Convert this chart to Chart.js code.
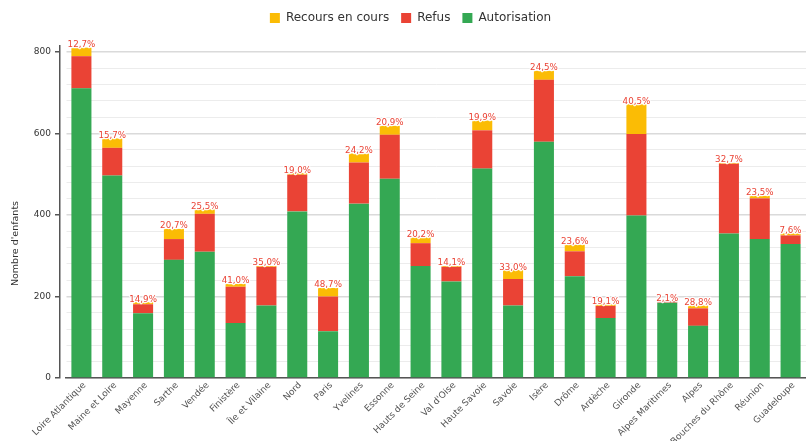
<!DOCTYPE html>
<html>
<head>
<meta charset="utf-8">
<script src="https://cdn.jsdelivr.net/npm/chart.js@4/dist/chart.umd.min.js"></script>
<style>
    body { margin: 0; background: #fff; }
    #wrap { width: 806px; height: 441px; }
</style>
</head>
<body>
<div id="wrap"><canvas id="chart" width="806" height="441"></canvas></div>
<script>
const departements = [
    'Loire Atlantique', 'Maine et Loire', 'Mayenne', 'Sarthe', 'Vendée', 'Finistère',
    'Île et Vilaine', 'Nord', 'Paris', 'Yvelines', 'Essonne', 'Hauts de Seine',
    "Val d'Oise", 'Haute Savoie', 'Savoie', 'Isère', 'Drôme', 'Ardèche',
    'Gironde', 'Alpes Maritimes', 'Alpes', 'Bouches du Rhône', 'Réunion', 'Guadeloupe'
]
const autorisation = [711, 497, 159, 290, 310, 135, 178, 409, 115, 428, 489, 275, 237, 514, 178, 580, 250, 147, 399, 185, 128, 355, 341, 329]
const refus = [79, 68, 22, 51, 93, 89, 95, 90, 85, 101, 108, 56, 36, 94, 65, 152, 61, 30, 200, 4, 43, 171, 100, 21]
const recours = [21, 23, 5, 25, 11, 7, 2, 4, 21, 22, 22, 14, 2, 24, 22, 22, 16, 4, 73, 0, 7, 2, 6, 5]
const pourcentages = [
    '12,7%', '15,7%', '14,9%', '20,7%', '25,5%', '41,0%', '35,0%', '19,0%',
    '48,7%', '24,2%', '20,9%', '20,2%', '14,1%', '19,9%', '33,0%', '24,5%',
    '23,6%', '19,1%', '40,5%', '2,1%', '28,8%', '32,7%', '23,5%', '7,6%'
]
const y_title = "Nombre d'enfants"
const y_max = 815
const y_top_tick = 800
const y_step = 40

const font_family = '"DejaVu Sans", Verdana, sans-serif'

// red percentage above each stack
const percent_labels = {
    id: 'percent_labels',
    afterDatasetsDraw(chart) {
        const ctx = chart.ctx
        const x_scale = chart.scales.x
        const y_scale = chart.scales.y
        ctx.save()
        ctx.font = '8.7px ' + font_family
        ctx.textAlign = 'center'
        ctx.textBaseline = 'alphabetic'
        ctx.lineJoin = 'round'
        ctx.lineWidth = 2.5
        ctx.strokeStyle = 'rgba(255,255,255,0.9)'
        ctx.fillStyle = '#ea4335'
        for (let i = 0; i < departements.length; i ++) {
            let total = autorisation[i] + refus[i] + recours[i]
            let x = x_scale.getPixelForValue(i)
            let y = y_scale.getPixelForValue(total) - 0.5
            ctx.strokeText(pourcentages[i], x, y)
            ctx.fillText(pourcentages[i], x, y)
        }
        ctx.restore()
    }
}

// y title, centred on the space below the legend
const side_title = {
    id: 'side_title',
    afterDraw(chart) {
        const ctx = chart.ctx
        ctx.save()
        ctx.translate(16, (chart.chartArea.top + chart.height) / 2)
        ctx.rotate(-Math.PI / 2)
        ctx.font = '9.5px ' + font_family
        ctx.fillStyle = '#333'
        ctx.textAlign = 'center'
        ctx.textBaseline = 'middle'
        ctx.fillText(y_title, 0, 0)
        ctx.restore()
    }
}

// extra room under the legend, legend a bit to the right
const legend_margin = {
    id: 'legend_margin',
    beforeInit(chart) {
        const fit = chart.legend.fit
        chart.legend.fit = function () {
            fit.bind(chart.legend)()
            this.height += 12
        }
    },
    afterLayout(chart) {
        chart.legend.left += 7.5
        chart.legend.right += 7.5
    }
}

function is_major(ctx) {
    return ctx.tick && ctx.tick.value % 200 === 0
}

new Chart(document.getElementById('chart'), {
    type: 'bar',
    data: {
        labels: departements,
        datasets: [
            { label: 'Autorisation', data: autorisation, backgroundColor: '#34a853' },
            { label: 'Refus', data: refus, backgroundColor: '#ea4335' },
            { label: 'Recours en cours', data: recours, backgroundColor: '#fbbc05' }
        ]
    },
    options: {
        responsive: false,
        animation: false,
        layout: { padding: 0 },
        datasets: {
            bar: { categoryPercentage: 0.65, barPercentage: 1.0, borderWidth: 0 }
        },
        plugins: {
            legend: {
                reverse: true,
                labels: {
                    boxWidth: 10,
                    boxHeight: 10,
                    padding: 12,
                    color: '#333',
                    font: { family: font_family, size: 12 }
                }
            },
            tooltip: { enabled: false }
        },
        scales: {
            x: {
                stacked: true,
                afterFit(scale) { scale.height = 63 },
                grid: { display: false },
                border: { display: true, color: '#555', width: 1.5 },
                ticks: {
                    autoSkip: false,
                    minRotation: 45,
                    maxRotation: 45,
                    padding: -6,
                    labelOffset: 3,
                    color: '#555',
                    font: { family: font_family, size: 9 }
                }
            },
            y: {
                stacked: true,
                min: 0,
                max: y_max,
                weight: 1,
                afterFit(scale) { scale.width = 60 },
                afterBuildTicks(scale) {
                    let ticks = []
                    for (let v = 0; v <= y_top_tick; v += y_step) {
                        ticks.push({ value: v })
                    }
                    scale.ticks = ticks
                },
                border: { display: true, color: '#555', width: 1.5 },
                grid: {
                    color: ctx => is_major(ctx) ? '#dadada' : '#ececec',
                    lineWidth: ctx => is_major(ctx) ? 1.5 : 1,
                    tickColor: ctx => is_major(ctx) ? '#555' : 'rgba(0,0,0,0)',
                    tickLength: 5
                },
                ticks: {
                    padding: 4,
                    color: '#333',
                    font: { family: font_family, size: 9 },
                    callback: v => v % 200 === 0 ? v : ''
                }
            },
            y_gap: {
                type: 'linear',
                position: 'left',
                weight: 0,
                afterFit(scale) { scale.width = 6 },
                grid: { display: false },
                border: { display: false },
                ticks: { display: false }
            }
        }
    },
    plugins: [percent_labels, side_title, legend_margin]
})
</script>
</body>
</html>
